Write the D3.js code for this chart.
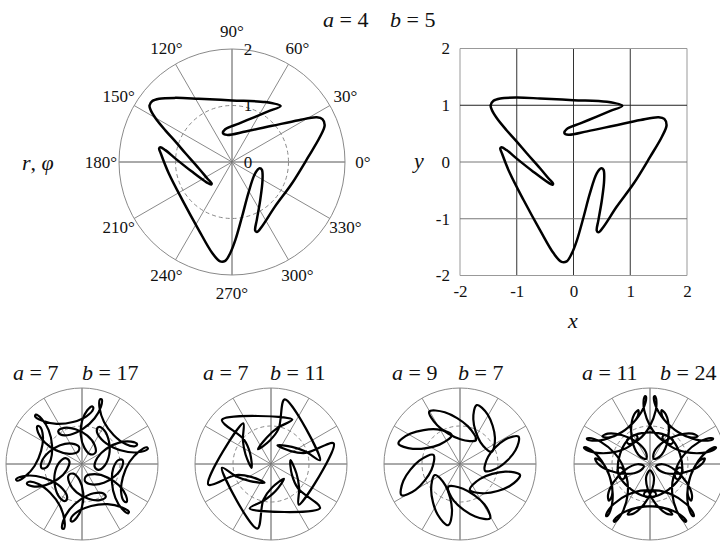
<!DOCTYPE html>
<html>
<head>
<meta charset="utf-8">
<script src="https://cdn.jsdelivr.net/npm/d3@7"></script>
<style>
  body { margin: 0; background: #fff; }
</style>
</head>
<body>
<script>
// ---- data ----
// a / b pairs of the five panels
const paramA = [4, 7, 7, 9, 11];
const paramB = [5, 17, 11, 7, 24];

// tick labels
const degreeTicks = [0, 30, 60, 90, 120, 150, 180, 210, 240, 270, 300, 330];
const radialTicks = [0, 1, 2];
const cartTicks = [-2, -1, 0, 1, 2];

// a = 4, b = 5 : [x, y]
const curve45 = [
  [0.86, 0.99], [0.59, 1.06], [0.0, 1.09], [-0.59, 1.12], [-1.0, 1.135], [-1.29, 1.12],
  [-1.41, 1.08], [-1.46, 1.0], [-1.44, 0.92], [-1.35, 0.77], [-1.18, 0.56], [-1.0, 0.36],
  [-0.82, 0.15], [-0.59, -0.11], [-0.43, -0.30], [-0.36, -0.38], [-0.37, -0.40], [-0.45, -0.36],
  [-0.71, -0.17], [-1.0, 0.06], [-1.18, 0.21], [-1.27, 0.26], [-1.29, 0.24], [-1.26, 0.15],
  [-1.12, -0.2], [-0.88, -0.67], [-0.59, -1.2], [-0.35, -1.61], [-0.21, -1.76], [-0.12, -1.75],
  [-0.03, -1.61], [0.06, -1.38], [0.18, -0.96], [0.29, -0.55], [0.41, -0.2], [0.49, -0.11],
  [0.53, -0.14], [0.54, -0.32], [0.50, -0.67], [0.44, -1.02], [0.41, -1.21], [0.44, -1.24],
  [0.53, -1.14], [0.76, -0.79], [1.06, -0.38], [1.35, 0.09], [1.56, 0.45], [1.64, 0.65],
  [1.60, 0.76], [1.50, 0.79], [1.18, 0.74], [0.71, 0.64], [0.24, 0.54], [-0.09, 0.48],
  [-0.16, 0.51], [-0.12, 0.58], [0.12, 0.68], [0.41, 0.80], [0.65, 0.90]
];

// a = 7, b = 17 : [phi (deg), r]
const curve717 = [
  [12.5,1.54],[14.5,1.76],[13.1,1.78],[11.7,1.59],[14.6,1.25],[28,0.93],[51.9,0.83],[66.1,0.96],[65.6,1.07],[56.3,1.06],[40.5,0.93],[19.4,0.76],
  [-3.7,0.60],[-19.9,0.46],[-11.9,0.34],[21.4,0.43],[32.4,0.76],[29.9,1.13],[24.4,1.42],[19.7,1.54],[18.5,1.47],[24.7,1.26],[42.2,1.13],[62.4,1.25],
  [72.5,1.54],[74.5,1.76],[73.1,1.78],[71.7,1.59],[74.6,1.25],[88,0.93],[111.9,0.83],[126.1,0.96],[125.6,1.07],[116.3,1.06],[100.5,0.93],[79.4,0.76],
  [56.3,0.60],[40.1,0.46],[48.1,0.34],[81.4,0.43],[92.4,0.76],[89.9,1.13],[84.4,1.42],[79.7,1.54],[78.5,1.47],[84.7,1.26],[102.2,1.13],[122.4,1.25],
  [132.5,1.54],[134.5,1.76],[133.1,1.78],[131.7,1.59],[134.6,1.25],[148,0.93],[171.9,0.83],[186.1,0.96],[185.6,1.07],[176.3,1.06],[160.5,0.93],[139.4,0.76],
  [116.3,0.60],[100.1,0.46],[108.1,0.34],[141.4,0.43],[152.4,0.76],[149.9,1.13],[144.4,1.42],[139.7,1.54],[138.5,1.47],[144.7,1.26],[162.2,1.13],[182.4,1.25],
  [192.5,1.54],[194.5,1.76],[193.1,1.78],[191.7,1.59],[194.6,1.25],[208,0.93],[231.9,0.83],[246.1,0.96],[245.6,1.07],[236.3,1.06],[220.5,0.93],[199.4,0.76],
  [176.3,0.60],[160.1,0.46],[168.1,0.34],[201.4,0.43],[212.4,0.76],[209.9,1.13],[204.4,1.42],[199.7,1.54],[198.5,1.47],[204.7,1.26],[222.2,1.13],[242.4,1.25],
  [252.5,1.54],[254.5,1.76],[253.1,1.78],[251.7,1.59],[254.6,1.25],[268,0.93],[291.9,0.83],[306.1,0.96],[305.6,1.07],[296.3,1.06],[280.5,0.93],[259.4,0.76],
  [236.3,0.60],[220.1,0.46],[228.1,0.34],[261.4,0.43],[272.4,0.76],[269.9,1.13],[264.4,1.42],[259.7,1.54],[258.5,1.47],[264.7,1.26],[282.2,1.13],[302.4,1.25],
  [312.5,1.54],[314.5,1.76],[313.1,1.78],[311.7,1.59],[314.6,1.25],[328,0.93],[351.9,0.83],[366.1,0.96],[365.6,1.07],[356.3,1.06],[340.5,0.93],[319.4,0.76],
  [296.3,0.60],[280.1,0.46],[288.1,0.34],[321.4,0.43],[332.4,0.76],[329.9,1.13],[324.4,1.42],[319.7,1.54],[318.5,1.47],[324.7,1.26],[342.2,1.13],[362.4,1.25]
];

// a = 7, b = 11 : [x, y]
const curve711 = [
  [0.36,1.70],[0.20,0.93],[-0.03,0.62],[-0.34,0.39],[-0.11,0.70],[0.17,0.95],[0.56,1.17],
  [-1.29,1.16],[-0.71,0.64],[-0.55,0.28],[-0.51,-0.10],[-0.67,0.25],[-0.74,0.62],[-0.73,1.07],
  [-1.65,-0.54],[-0.91,-0.29],[-0.52,-0.34],[-0.17,-0.49],[-0.55,-0.45],[-0.91,-0.33],[-1.29,-0.10],
  [-0.36,-1.70],[-0.20,-0.94],[0.03,-0.62],[0.34,-0.39],[0.12,-0.71],[-0.17,-0.95],[-0.56,-1.17],
  [1.29,-1.16],[0.71,-0.64],[0.55,-0.28],[0.51,0.10],[0.67,-0.25],[0.74,-0.62],[0.73,-1.07],
  [1.65,0.54],[0.91,0.29],[0.52,0.34],[0.17,0.49],[0.55,0.45],[0.91,0.33],[1.29,0.10]
];

// a = 9, b = 7 : eight loops, [x, y]
const loops97 = [
  [[-0.81,1.38],[-0.40,1.36],[0.21,0.99],[0.42,0.63],[0.01,0.65],[-0.60,1.02]],
  [[0.44,1.55],[0.73,1.30],[0.92,0.69],[0.83,0.32],[0.54,0.57],[0.35,1.18]],
  [[1.54,0.72],[1.46,0.36],[1.02,-0.09],[0.66,-0.18],[0.74,0.19],[1.18,0.64]],
  [[1.58,-0.29],[1.31,-0.58],[0.65,-0.77],[0.26,-0.68],[0.53,-0.39],[1.19,-0.20]],
  [[0.79,-1.43],[0.40,-1.38],[-0.16,-0.97],[-0.31,-0.60],[0.08,-0.65],[0.64,-1.06]],
  [[-0.31,-1.61],[-0.59,-1.33],[-0.76,-0.67],[-0.66,-0.29],[-0.38,-0.57],[-0.21,-1.23]],
  [[-1.54,-0.82],[-1.49,-0.44],[-1.07,0.09],[-0.70,0.24],[-0.75,-0.15],[-1.17,-0.68]],
  [[-1.62,0.54],[-1.30,0.80],[-0.60,0.91],[-0.22,0.76],[-0.54,0.51],[-1.24,0.40]]
];

// a = 11, b = 24 : [phi (deg), r]
const curve1124 = [
  [12.5,1.54],[14.4,1.68],[14.6,1.77],[13.8,1.79],[12.7,1.73],[11.9,1.61],[11.8,1.42],[18.4,0.99],[42.2,0.71],[64.5,0.76],[63.3,0.86],[45.8,0.86],
  [18,0.83],[-9.8,0.86],[-27.3,0.86],[-28.5,0.76],[-6.2,0.71],[17.6,0.99],[24.2,1.42],[24.1,1.61],[23.3,1.73],[22.2,1.79],[21.4,1.77],[21.6,1.68],
  [23.5,1.54],[28,1.37],[36,1.22],[59.8,1.12],[75.7,1.30],[77.8,1.45],[72.3,1.37],[62.4,1.07],[49.4,0.68],[37.1,0.33],[54,0.17],[70.9,0.33],
  [58.6,0.68],[45.6,1.07],[35.7,1.37],[30.2,1.45],[32.3,1.30],[48.2,1.12],[72,1.22],[80,1.37],
  [84.5,1.54],[86.4,1.68],[86.6,1.77],[85.8,1.79],[84.7,1.73],[83.9,1.61],[83.8,1.42],[90.4,0.99],[114.2,0.71],[136.5,0.76],[135.3,0.86],[117.8,0.86],
  [90,0.83],[62.2,0.86],[44.7,0.86],[43.5,0.76],[65.8,0.71],[89.6,0.99],[96.2,1.42],[96.1,1.61],[95.3,1.73],[94.2,1.79],[93.4,1.77],[93.6,1.68],
  [95.5,1.54],[100,1.37],[108,1.22],[131.8,1.12],[147.7,1.30],[149.8,1.45],[144.3,1.37],[134.4,1.07],[121.4,0.68],[109.1,0.33],[126,0.17],[142.9,0.33],
  [130.6,0.68],[117.6,1.07],[107.7,1.37],[102.2,1.45],[104.3,1.30],[120.2,1.12],[144,1.22],[152,1.37],
  [156.5,1.54],[158.4,1.68],[158.6,1.77],[157.8,1.79],[156.7,1.73],[155.9,1.61],[155.8,1.42],[162.4,0.99],[186.2,0.71],[208.5,0.76],[207.3,0.86],[189.8,0.86],
  [162,0.83],[134.2,0.86],[116.7,0.86],[115.5,0.76],[137.8,0.71],[161.6,0.99],[168.2,1.42],[168.1,1.61],[167.3,1.73],[166.2,1.79],[165.4,1.77],[165.6,1.68],
  [167.5,1.54],[172,1.37],[180,1.22],[203.8,1.12],[219.7,1.30],[221.8,1.45],[216.3,1.37],[206.4,1.07],[193.4,0.68],[181.1,0.33],[198,0.17],[214.9,0.33],
  [202.6,0.68],[189.6,1.07],[179.7,1.37],[174.2,1.45],[176.3,1.30],[192.2,1.12],[216,1.22],[224,1.37],
  [228.5,1.54],[230.4,1.68],[230.6,1.77],[229.8,1.79],[228.7,1.73],[227.9,1.61],[227.8,1.42],[234.4,0.99],[258.2,0.71],[280.5,0.76],[279.3,0.86],[261.8,0.86],
  [234,0.83],[206.2,0.86],[188.7,0.86],[187.5,0.76],[209.8,0.71],[233.6,0.99],[240.2,1.42],[240.1,1.61],[239.3,1.73],[238.2,1.79],[237.4,1.77],[237.6,1.68],
  [239.5,1.54],[244,1.37],[252,1.22],[275.8,1.12],[291.7,1.30],[293.8,1.45],[288.3,1.37],[278.4,1.07],[265.4,0.68],[253.1,0.33],[270,0.17],[286.9,0.33],
  [274.6,0.68],[261.6,1.07],[251.7,1.37],[246.2,1.45],[248.3,1.30],[264.2,1.12],[288,1.22],[296,1.37],
  [300.5,1.54],[302.4,1.68],[302.6,1.77],[301.8,1.79],[300.7,1.73],[299.9,1.61],[299.8,1.42],[306.4,0.99],[330.2,0.71],[352.5,0.76],[351.3,0.86],[333.8,0.86],
  [306,0.83],[278.2,0.86],[260.7,0.86],[259.5,0.76],[281.8,0.71],[305.6,0.99],[312.2,1.42],[312.1,1.61],[311.3,1.73],[310.2,1.79],[309.4,1.77],[309.6,1.68],
  [311.5,1.54],[316,1.37],[324,1.22],[347.8,1.12],[363.7,1.30],[365.8,1.45],[360.3,1.37],[350.4,1.07],[337.4,0.68],[325.1,0.33],[342,0.17],[358.9,0.33],
  [346.6,0.68],[333.6,1.07],[323.7,1.37],[318.2,1.45],[320.3,1.30],[336.2,1.12],[360,1.22],[368,1.37]
];

// ---- drawing ----
const W = 720, H = 541;
const SERIF = '"Liberation Serif", "Times New Roman", Tinos, "DejaVu Serif", serif';
const svg = d3.select('body').append('svg').attr('width', W).attr('height', H)
  .style('display', 'block').attr('font-family', SERIF).style('font-family', SERIF);
svg.append('rect').attr('width', W).attr('height', H).attr('fill', '#fff');

const axisGrey = '#555', lightGrey = '#8a8a8a';
const serifText = sel => sel.attr('font-family', SERIF).style('font-family', SERIF).attr('fill', '#111');

function paramLabel(x, y, a, b, bx) {
  const t = svg.append('text').attr('x', x).attr('y', y).style('font-size', '22px').call(serifText);
  t.append('tspan').style('font-style', 'italic').text('a');
  t.append('tspan').text(' = ' + a);
  t.append('tspan').attr('x', bx).style('font-style', 'italic').text('b');
  t.append('tspan').text(' = ' + b);
}

// polar grid: circle r=2, dashed r=1, spokes each 30 deg
function polarGrid(g, rS) {
  g.selectAll('.spoke').data(degreeTicks).join('line')
    .attr('x1', 0).attr('y1', 0)
    .attr('x2', d => rS(2) * Math.cos(d * Math.PI / 180))
    .attr('y2', d => -rS(2) * Math.sin(d * Math.PI / 180))
    .attr('stroke', d => d % 90 === 0 ? axisGrey : lightGrey)
    .attr('stroke-width', 1);
  g.append('circle').attr('r', rS(1)).attr('fill', 'none')
    .attr('stroke', lightGrey).attr('stroke-dasharray', '4,3');
  g.append('circle').attr('r', rS(2)).attr('fill', 'none')
    .attr('stroke', lightGrey).attr('stroke-width', 1);
}

// ---- main polar panel ----
const mainR = 113;
const mainC = [232, 162];
const polar = svg.append('g').attr('transform', `translate(${mainC[0]},${mainC[1]})`);
const rMain = d3.scaleLinear([0, 2], [0, mainR]);
polarGrid(polar, rMain);

polar.selectAll('.deg').data(degreeTicks).join('text')
  .attr('x', d => 131 * Math.cos(d * Math.PI / 180))
  .attr('y', d => -131 * Math.sin(d * Math.PI / 180))
  .attr('text-anchor', 'middle').attr('dominant-baseline', 'central')
  .style('font-size', '17px').call(serifText)
  .text(d => d + '°');

polar.selectAll('.rt').data(radialTicks).join('text')
  .attr('x', 16).attr('y', d => -rMain(d))
  .attr('text-anchor', 'middle').attr('dominant-baseline', 'central')
  .style('font-size', '17px').call(serifText)
  .text(d => d);

const px = d3.scaleLinear([-2, 2], [-mainR, mainR]);
const py = d3.scaleLinear([-2, 2], [mainR, -mainR]);
const xyLine = (sx, sy) => d3.line().x(d => sx(d[0])).y(d => sy(d[1]))
  .curve(d3.curveCatmullRomClosed.alpha(0.5));

polar.append('path').datum(curve45)
  .attr('d', xyLine(px, py)).attr('fill', 'none')
  .attr('stroke', '#000').attr('stroke-width', 2.5).attr('stroke-linejoin', 'round');

const rp = svg.append('text').attr('x', 22).attr('y', mainC[1])
  .attr('dominant-baseline', 'central').style('font-size', '22px').call(serifText);
rp.append('tspan').style('font-style', 'italic').text('r');
rp.append('tspan').text(', ');
rp.append('tspan').style('font-style', 'italic').text('φ');

paramLabel(323, 27, paramA[0], paramB[0], 390);

// ---- cartesian panel ----
const cx = d3.scaleLinear([-2, 2], [460, 687]);
const cy = d3.scaleLinear([-2, 2], [275.5, 48.5]);
const cart = svg.append('g');

cart.selectAll('.gx').data(cartTicks).join('line')
  .attr('x1', d => cx(d)).attr('x2', d => cx(d))
  .attr('y1', cy(-2)).attr('y2', cy(2))
  .attr('stroke', d => Math.abs(d) === 2 ? '#999' : '#333');
cart.selectAll('.gy').data(cartTicks).join('line')
  .attr('y1', d => cy(d)).attr('y2', d => cy(d))
  .attr('x1', cx(-2)).attr('x2', cx(2))
  .attr('stroke', d => Math.abs(d) === 2 ? '#999' : (d === 1 ? '#222' : '#777'));

const xAxis = d3.axisBottom(cx).tickValues(cartTicks).tickFormat(d => String(d)).tickSize(0).tickPadding(9);
const yAxis = d3.axisLeft(cy).tickValues(cartTicks).tickFormat(d => String(d)).tickSize(0).tickPadding(10);
const xg = cart.append('g').attr('transform', `translate(0,${cy(-2)})`).call(xAxis);
const yg = cart.append('g').attr('transform', `translate(${cx(-2)},0)`).call(yAxis);
[xg, yg].forEach(g => {
  g.select('.domain').remove();
  g.attr('font-family', SERIF).attr('font-size', null);
  g.selectAll('text').style('font-size', '17px').call(serifText);
});

cart.append('path').datum(curve45)
  .attr('d', xyLine(cx, cy)).attr('fill', 'none')
  .attr('stroke', '#000').attr('stroke-width', 2.5);

svg.append('text').attr('x', 573).attr('y', 320).attr('text-anchor', 'middle')
  .attr('dominant-baseline', 'central').style('font-size', '22px').style('font-style', 'italic')
  .call(serifText).text('x');
svg.append('text').attr('x', 419).attr('y', 160).attr('text-anchor', 'middle')
  .attr('dominant-baseline', 'central').style('font-size', '22px').style('font-style', 'italic')
  .call(serifText).text('y');

// ---- small panels ----
const smallR = 76;
const smallCx = [82, 271, 460, 650];
const smallCy = 464;
const labelX = [[13, 82], [203, 270], [392, 458], [582, 660]];
const rSmall = d3.scaleLinear([0, 2], [0, smallR]);
const sx = d3.scaleLinear([-2, 2], [-smallR, smallR]);
const sy = d3.scaleLinear([-2, 2], [smallR, -smallR]);
const radial = d3.lineRadial()
  .angle(d => (90 - d[0]) * Math.PI / 180)
  .radius(d => rSmall(d[1]))
  .curve(d3.curveCatmullRomClosed.alpha(0.5));

const panels = smallCx.map((x, i) => {
  const g = svg.append('g').attr('transform', `translate(${x},${smallCy})`);
  polarGrid(g, rSmall);
  paramLabel(labelX[i][0], 380, paramA[i + 1], paramB[i + 1], labelX[i][1]);
  return g;
});

const ink = sel => sel.attr('fill', 'none').attr('stroke', '#000')
  .attr('stroke-width', 2.2).attr('stroke-linejoin', 'round');

panels[0].append('path').datum(curve717).attr('d', radial).call(ink);
panels[1].append('path').datum(curve711).attr('d', xyLine(sx, sy)).call(ink);
panels[2].selectAll('.loop').data(loops97).join('path').attr('d', xyLine(sx, sy)).call(ink);
panels[3].append('path').datum(curve1124).attr('d', radial).call(ink);
</script>
</body>
</html>
